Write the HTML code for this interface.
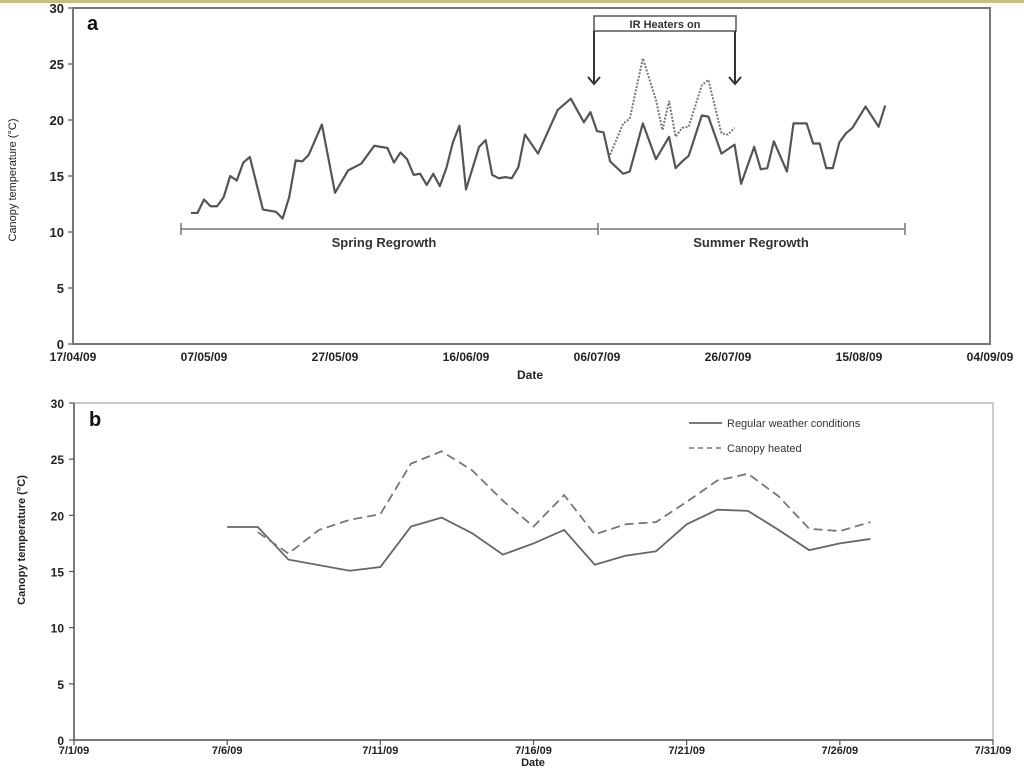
<!DOCTYPE html>
<html><head><meta charset="utf-8">
<style>
html,body{margin:0;padding:0;background:#fff;}
svg{display:block;font-family:"Liberation Sans",sans-serif;}
</style></head>
<body>
<svg id="chart" width="1024" height="768" viewBox="0 0 1024 768">
<rect x="0" y="0" width="1024" height="3" fill="#c8bf7a"/>
<g id="pa"></g>
<g id="pb"></g>
</svg>
<script>
// ---------- Panel a data (days since 17/04/09) ----------
const aTickLabels = ["17/04/09","07/05/09","27/05/09","16/06/09","06/07/09","26/07/09","15/08/09","04/09/09"];
const aYTicks = [0,5,10,15,20,25,30];
const aRegDays = [18,19,20,21,22,23,24,25,26,27,29,31,32,33,34,35,36,38,40,42,44,46,48,49,50,51,52,53,54,55,56,57,58,59,60,61,62,63,64,65,66,67,68,69,71,74,76,78,79,80,81,82,84,85,87,89,91,92,93,94,96,97,99,101,102,104,105,106,107,109,110,112,113,114,115,116,117,118,119,121,123,124];
const aRegVals = [11.7,11.7,12.9,12.3,12.3,13.1,15.0,14.6,16.2,16.7,12.0,11.8,11.2,13.1,16.4,16.3,16.9,19.6,13.5,15.5,16.1,17.7,17.5,16.2,17.1,16.5,15.1,15.2,14.2,15.2,14.1,15.7,18.0,19.5,13.8,15.7,17.6,18.2,15.1,14.8,14.9,14.8,15.8,18.7,17.0,20.9,21.9,19.8,20.7,19.0,18.9,16.3,15.2,15.4,19.7,16.5,18.5,15.7,16.3,16.8,20.4,20.3,17.0,17.8,14.3,17.6,15.6,15.7,18.1,15.4,19.7,19.7,17.9,17.9,15.7,15.7,18.0,18.8,19.3,21.2,19.4,21.3];
const aHeatDays = [82,84,85,87,89,90,91,92,93,94,96,97,99,100,101];
const aHeatVals = [16.9,19.7,20.1,25.5,21.8,19.1,21.7,18.5,19.3,19.4,23.1,23.6,18.8,18.7,19.3];
// ---------- Panel b data (days since 7/1/09) ----------
const bTickLabels = ["7/1/09","7/6/09","7/11/09","7/16/09","7/21/09","7/26/09","7/31/09"];
const bYTicks = [0,5,10,15,20,25,30];
const bRegDays = [5,6,7,9,10,11,12,13,14,15,16,17,18,19,20,21,22,23,24,25,26];
const bRegVals = [18.96,18.96,16.06,15.07,15.4,19.0,19.8,18.4,16.5,17.5,18.7,15.6,16.4,16.8,19.2,20.5,20.4,18.7,16.9,17.5,17.9];
const bHeatDays = [6,7,8,9,10,11,12,13,14,15,16,17,18,19,20,21,22,23,24,25,26];
const bHeatVals = [18.5,16.6,18.7,19.6,20.1,24.6,25.7,24.0,21.3,19.0,21.8,18.3,19.2,19.4,21.2,23.1,23.7,21.7,18.8,18.6,19.4];

const NS="http://www.w3.org/2000/svg";
function mk(parent,tag,attrs){const e=document.createElementNS(NS,tag);for(const k in attrs)e.setAttribute(k,attrs[k]);parent.appendChild(e);return e;}

// ---- Panel a ----
const pa=document.getElementById('pa');
const axX=d=>73+d*(917/140), ayY=v=>344-v*11.2;
let e;
e=mk(pa,'rect',{x:73,y:8,width:917,height:336,fill:'none',stroke:'#777','stroke-width':2});


aYTicks.forEach(v=>{
  const t=mk(pa,'text',{x:64,y:ayY(v)+5,'text-anchor':'end','font-size':13,'font-weight':'bold',fill:'#222'});t.textContent=v;
  
  
  mk(pa,'line',{x1:68,x2:73,y1:ayY(v),y2:ayY(v),stroke:'#777','stroke-width':1.5});
});
aTickLabels.forEach((s,i)=>{
  const x=axX(i*20);
  const t=mk(pa,'text',{x:x,y:361,'text-anchor':'middle','font-size':12,'font-weight':'bold',fill:'#222'});t.textContent=s;
  
  
});
e=mk(pa,'text',{x:530,y:379,'text-anchor':'middle','font-size':12,'font-weight':'bold',fill:'#222'});e.textContent='Date';


e=mk(pa,'text',{x:0,y:0,transform:'translate(16,180) rotate(-90)','text-anchor':'middle','font-size':11,fill:'#222'});e.textContent='Canopy temperature (°C)';


e=mk(pa,'text',{x:87,y:30,'font-size':20,'font-weight':'bold',fill:'#111'});e.textContent='a';


e=mk(pa,'polyline',{points:aRegDays.map((d,i)=>axX(d)+','+ayY(aRegVals[i])).join(' '),fill:'none',stroke:'#555','stroke-width':2.2,'stroke-linejoin':'round'});


e=mk(pa,'polyline',{points:aHeatDays.map((d,i)=>axX(d)+','+ayY(aHeatVals[i])).join(' '),fill:'none',stroke:'#777','stroke-width':2,'stroke-dasharray':'2,1.5'});


// regrowth bars
e=mk(pa,'path',{d:'M181,229H598M181,223V235M598,223V235M600,229H905M905,223V235',stroke:'#777','stroke-width':1.5,fill:'none'});


e=mk(pa,'text',{x:384,y:247,'text-anchor':'middle','font-size':13,'font-weight':'bold',fill:'#333'});e.textContent='Spring Regrowth';


e=mk(pa,'text',{x:751,y:247,'text-anchor':'middle','font-size':13,'font-weight':'bold',fill:'#333'});e.textContent='Summer Regrowth';


// IR heaters annotation
e=mk(pa,'rect',{x:594,y:16,width:142,height:15,fill:'#fff',stroke:'#555','stroke-width':1.5});


e=mk(pa,'text',{x:665,y:28,'text-anchor':'middle','font-size':11,'font-weight':'bold',fill:'#333'});e.textContent='IR Heaters on';


e=mk(pa,'path',{d:'M594,31V84M588,77L594,84L600,77M735,31V84M729,77L735,84L741,77',stroke:'#333','stroke-width':2,fill:'none'});



// ---- Panel b ----
const pb=document.getElementById('pb');
const bxX=d=>74+d*(919/30), byY=v=>740-v*(337/30);
e=mk(pb,'path',{d:'M74,403V740H993V403H74',fill:'none',stroke:'#aaa','stroke-width':1.2});


mk(pb,'path',{d:'M74,403V740H993',fill:'none',stroke:'#555','stroke-width':1.5});
bYTicks.forEach(v=>{
  const t=mk(pb,'text',{x:64,y:byY(v)+5,'text-anchor':'end','font-size':12,'font-weight':'bold',fill:'#222'});t.textContent=v;
  
  
  mk(pb,'line',{x1:69,x2:74,y1:byY(v),y2:byY(v),stroke:'#555','stroke-width':1.2});
});
bTickLabels.forEach((s,i)=>{
  const x=bxX(i*5);
  mk(pb,'line',{x1:x,x2:x,y1:740,y2:745,stroke:'#555','stroke-width':1.2});
  const t=mk(pb,'text',{x:x,y:754,'text-anchor':'middle','font-size':11,'font-weight':'bold',fill:'#222'});t.textContent=s;
  
  
});
e=mk(pb,'text',{x:533,y:766,'text-anchor':'middle','font-size':11,'font-weight':'bold',fill:'#222'});e.textContent='Date';


e=mk(pb,'text',{x:0,y:0,transform:'translate(25,540) rotate(-90)','text-anchor':'middle','font-size':11,'font-weight':'bold',fill:'#222'});e.textContent='Canopy temperature (°C)';


e=mk(pb,'text',{x:89,y:426,'font-size':20,'font-weight':'bold',fill:'#111'});e.textContent='b';


e=mk(pb,'polyline',{points:bRegDays.map((d,i)=>bxX(d)+','+byY(bRegVals[i])).join(' '),fill:'none',stroke:'#666','stroke-width':1.8});


e=mk(pb,'polyline',{points:bHeatDays.map((d,i)=>bxX(d)+','+byY(bHeatVals[i])).join(' '),fill:'none',stroke:'#777','stroke-width':1.8,'stroke-dasharray':'9,5'});


// legend
e=mk(pb,'line',{x1:689,x2:722,y1:423,y2:423,stroke:'#666','stroke-width':1.8});


e=mk(pb,'text',{x:727,y:427,'font-size':11,fill:'#333'});e.textContent='Regular weather conditions';


e=mk(pb,'line',{x1:689,x2:722,y1:448,y2:448,stroke:'#777','stroke-width':1.5,'stroke-dasharray':'5,4'});


e=mk(pb,'text',{x:727,y:452,'font-size':11,fill:'#333'});e.textContent='Canopy heated';


</script>
</body></html>
